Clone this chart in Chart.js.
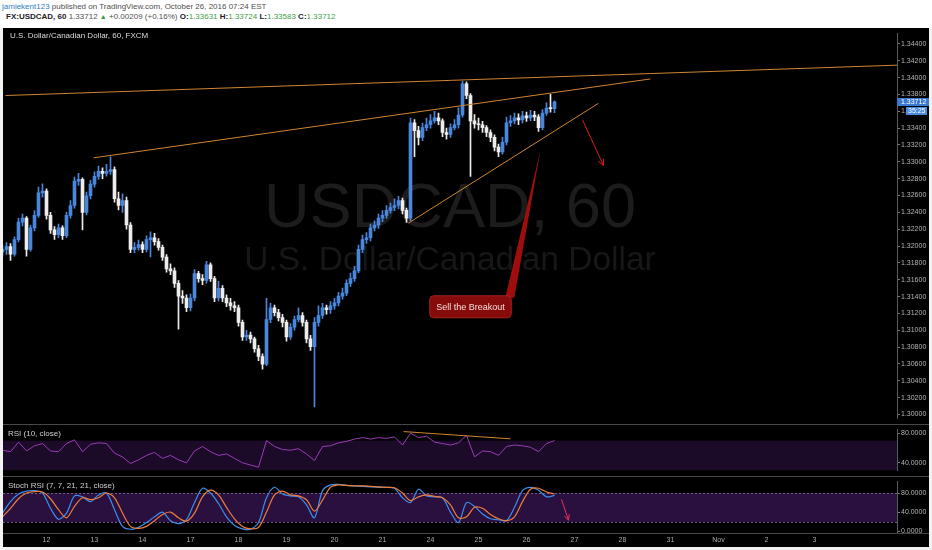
<!DOCTYPE html>
<html>
<head>
<meta charset="utf-8">
<script src="https://cdn.jsdelivr.net/npm/chart.js@4.4.0/dist/chart.umd.min.js"></script>
<style>
  body { margin: 0; width: 932px; height: 550px; overflow: hidden; background: #f2f2f2;
         font-family: "Liberation Sans", Arial, sans-serif; }
  #hdr { position: absolute; left: 0; top: 0; width: 932px; height: 28px; background: #fff; }
  .ln { position: absolute; white-space: nowrap; font-size: 8px; line-height: 10px; color: #505050; }
  #l1 { left: 2px; top: 2px; }
  #l2 { left: 6px; top: 12px; }
  .user { color: #2f7ec4; }
  .b { color: #222; font-weight: bold; }
  .g { color: #43a047; }
  .tri { color: #3c9a3c; font-size: 7px; }
  #panes { position: absolute; left: 3px; top: 28px; width: 926px; height: 519px; background: #000; }
  #panes canvas { position: absolute; left: 0; }
</style>
</head>
<body>
<div id="hdr">
  <div class="ln" id="l1"><span class="user">jamiekent123</span> published on TradingView.com, October 26, 2016 07:24 EST</div>
  <div class="ln" id="l2"><span class="b">FX:USDCAD, 60</span> <span id="hLast"></span> <span class="tri">&#9650;</span> +0.00209 (+0.16%) <span class="b">O:</span><span class="g" id="hO"></span> <span class="b">H:</span><span class="g" id="hH"></span> <span class="b">L:</span><span class="g" id="hL"></span> <span class="b">C:</span><span class="g" id="hC"></span></div>
</div>
<div id="panes">
  <canvas id="price" width="926" height="396" style="top:0"></canvas>
  <canvas id="rsi" width="926" height="52" style="top:396px"></canvas>
  <canvas id="stoch" width="926" height="71" style="top:448px"></canvas>
</div>
<script>
// USDCAD 60, 2-hour steps from Oct 11 to Oct 26
const firstOpen = 1.31930;
const closes = [
  1.31961,1.31995,1.31903,1.32076,1.32284,1.32331,1.31961,1.32215,1.32365,1.32631,
  1.32654,1.32365,1.32192,1.32134,1.32215,1.32123,1.32365,1.32481,1.32770,1.32793,
  1.32400,1.32597,1.32735,1.32828,1.32886,1.32862,1.32886,1.32909,1.32562,1.32481,
  1.32539,1.32250,1.31961,1.31984,1.32018,1.31961,1.32076,1.32099,1.32053,1.31984,
  1.31868,1.31729,1.31706,1.31556,1.31406,1.31383,1.31267,1.31383,1.31672,1.31614,
  1.31591,1.31776,1.31614,1.31383,1.31498,1.31383,1.31325,1.31290,1.31267,1.31094,
  1.30920,1.30943,1.30897,1.30781,1.30689,1.30597,1.31128,1.31267,1.31209,1.31151,
  1.31094,1.30920,1.31036,1.31128,1.31175,1.31094,1.30897,1.30805,1.31094,1.31175,
  1.31267,1.31244,1.31290,1.31325,1.31406,1.31441,1.31556,1.31614,1.31706,1.31961,
  1.32076,1.32099,1.32215,1.32250,1.32331,1.32365,1.32423,1.32458,1.32481,1.32539,
  1.32423,1.32331,1.33464,1.33371,1.33290,1.33406,1.33440,1.33487,1.33521,1.33487,
  1.33348,1.33325,1.33406,1.33440,1.33556,1.33926,1.33787,1.33487,1.33450,1.33440,
  1.33406,1.33348,1.33290,1.33175,1.33117,1.33232,1.33464,1.33487,1.33521,1.33498,
  1.33545,1.33521,1.33556,1.33533,1.33406,1.33579,1.33637,1.33631,1.33712
];
const highs = [
  1.32010,1.32040,1.32030,1.32110,1.32330,1.32380,1.32350,1.32250,1.32420,1.32700,
  1.32740,1.32680,1.32400,1.32230,1.32260,1.32240,1.32400,1.32540,1.32820,1.32862,
  1.32810,1.32640,1.32780,1.32880,1.32950,1.32930,1.32970,1.33059,1.32940,1.32640,
  1.32620,1.32580,1.32280,1.32040,1.32070,1.32050,1.32120,1.32170,1.32150,1.32090,
  1.32010,1.31900,1.31790,1.31740,1.31590,1.31470,1.31420,1.31430,1.31720,1.31700,
  1.31660,1.31820,1.31800,1.31640,1.31580,1.31530,1.31420,1.31380,1.31340,1.31300,
  1.31120,1.31000,1.30980,1.30920,1.30820,1.30720,1.31380,1.31320,1.31300,1.31250,
  1.31190,1.31120,1.31080,1.31170,1.31267,1.31210,1.31120,1.30940,1.31150,1.31290,
  1.31320,1.31300,1.31340,1.31380,1.31450,1.31500,1.31600,1.31680,1.31760,1.32010,
  1.32130,1.32160,1.32260,1.32300,1.32380,1.32420,1.32480,1.32510,1.32560,1.32590,
  1.32570,1.32450,1.33520,1.33500,1.33420,1.33460,1.33520,1.33560,1.33600,1.33580,
  1.33510,1.33400,1.33450,1.33500,1.33640,1.33960,1.33950,1.33810,1.33560,1.33520,
  1.33480,1.33430,1.33380,1.33320,1.33210,1.33290,1.33530,1.33550,1.33580,1.33570,
  1.33600,1.33590,1.33610,1.33600,1.33560,1.33620,1.33700,1.33800,1.33724
];
const lows = [
  1.31880,1.31900,1.31830,1.31880,1.32050,1.32240,1.31880,1.31940,1.32180,1.32340,
  1.32580,1.32320,1.32150,1.32080,1.32100,1.32080,1.32100,1.32330,1.32450,1.32720,
  1.32192,1.32370,1.32560,1.32700,1.32790,1.32800,1.32830,1.32850,1.32520,1.32430,
  1.32400,1.32200,1.31920,1.31920,1.31950,1.31920,1.31930,1.31870,1.32010,1.31950,
  1.31830,1.31690,1.31660,1.31510,1.31013,1.31320,1.31220,1.31230,1.31350,1.31570,
  1.31540,1.31560,1.31580,1.31340,1.31350,1.31340,1.31280,1.31240,1.31220,1.31050,
  1.30880,1.30880,1.30850,1.30740,1.30640,1.30539,1.30580,1.31090,1.31170,1.31110,
  1.31040,1.30870,1.30890,1.31000,1.31100,1.31050,1.30850,1.30760,1.30090,1.31050,
  1.31140,1.31190,1.31200,1.31250,1.31290,1.31370,1.31410,1.31520,1.31580,1.31680,
  1.31920,1.32030,1.32060,1.32180,1.32210,1.32290,1.32330,1.32390,1.32420,1.32440,
  1.32380,1.32280,1.32300,1.33060,1.33200,1.33250,1.33370,1.33400,1.33460,1.33440,
  1.33300,1.33270,1.33290,1.33380,1.33400,1.33530,1.33750,1.32828,1.33400,1.33380,
  1.33350,1.33300,1.33240,1.33130,1.33060,1.33090,1.33200,1.33420,1.33450,1.33440,
  1.33460,1.33480,1.33490,1.33490,1.33360,1.33380,1.33550,1.33590,1.33583
];

// RSI(10) and Stoch RSI K/D, one value every 2 bars (every 4 hours)
const rsi = [
  57,55,68,56,63,66,56,55,66,71, 55,65,67,66,53,48,39,44,50,54,
  46,50,44,40,56,62,55,50,52,46, 40,37,34,70,62,58,57,59,52,43,
  62,63,67,69,72,74,72,74,73,75, 64,80,74,76,68,66,64,67,77,48,
  56,55,50,62,64,63,61,55,66,70
];
const stochK = [
  38,62,78,84,85,80,48,25,38,74, 72,62,76,80,45,10,4,8,18,30,
  40,22,16,24,60,90,80,58,30,12, 5,4,18,70,92,78,74,72,55,28,
  85,97,98,96,95,94,93,92,92,90, 70,60,88,74,72,70,40,18,60,52,
  36,26,24,22,50,85,92,86,72,75
];
const stochD = [
  30,48,68,80,83,82,68,45,28,52, 70,66,70,80,70,38,10,6,10,22,
  35,40,28,21,38,72,86,76,50,26, 10,5,8,40,76,84,76,74,66,42,
  65,92,97,96,95,95,94,93,92,91, 80,64,72,76,73,70,55,28,30,50,
  48,35,26,22,30,62,88,90,82,78
];

// axis labels
const priceTicks = [1.30000,1.30200,1.30400,1.30600,1.30800,1.31000,1.31200,1.31400,1.31600,
  1.31800,1.32000,1.32200,1.32400,1.32600,1.32800,1.33000,1.33200,1.33400,1.33600,1.33800,
  1.34000,1.34200,1.34400];
const rsiTicks = [80, 40];
const stochTicks = [80, 40, 0];
const dayLabels = ['12','13','14','17','18','19','20','21','24','25','26','27','28','31','Nov','2','3'];
const BARS_PER_DAY = 12;
const FIRST_DAY_BAR = 11;   // bar where Oct 12 starts

// drawings on the chart, in (bar, value) units
const trendLines = [
  { from: [0.75, 1.33787], to: [224, 1.34148] },
  { from: [22.75, 1.33047], to: [162, 1.33984] },
  { from: [101.5, 1.32273], to: [149, 1.33695] }
];
const sellArrow = { from: [145, 1.33498], to: [150.25, 1.32955] };
const callout = { text: 'Sell the Breakout', tip: [134.5, 1.33140], at: [117, 1.31279] };
const rsiLine = { from: [100.25, 82.2], to: [127, 72.4] };
const stochArrow = { from: [139.75, 66.7], to: [141.5, 22.9] };

const opens = closes.map((c, i) => i === 0 ? firstOpen : closes[i - 1]);
const last = closes.length - 1;

document.getElementById('hLast').textContent = closes[last].toFixed(5);
document.getElementById('hO').textContent = opens[last].toFixed(5);
document.getElementById('hH').textContent = highs[last].toFixed(5);
document.getElementById('hL').textContent = lows[last].toFixed(5);
document.getElementById('hC').textContent = closes[last].toFixed(5);

const FONT = '"Liberation Sans", Arial, sans-serif';
const UP = '#4b86dd', DOWN = '#ececec';
const ORANGE = '#cf8532';
const X_MIN = 0.125, X_MAX = 223.625;
const AXIS_W = 32;

const candleColor = ctx => closes[ctx.dataIndex] >= opens[ctx.dataIndex] ? UP : DOWN;

function px(chart, p) {
  return [chart.scales.x.getPixelForValue(p[0]), chart.scales.y.getPixelForValue(p[1])];
}
function line(ctx, a, b, color, w) {
  ctx.strokeStyle = color; ctx.lineWidth = w || 1;
  ctx.beginPath(); ctx.moveTo(a[0], a[1]); ctx.lineTo(b[0], b[1]); ctx.stroke();
}
function arrow(ctx, a, b, color, head) {
  line(ctx, a, b, color, 1);
  const ang = Math.atan2(b[1] - a[1], b[0] - a[0]);
  ctx.beginPath();
  ctx.moveTo(b[0] - head * Math.cos(ang - 0.45), b[1] - head * Math.sin(ang - 0.45));
  ctx.lineTo(b[0], b[1]);
  ctx.lineTo(b[0] - head * Math.cos(ang + 0.45), b[1] - head * Math.sin(ang + 0.45));
  ctx.stroke();
}
function roundRect(ctx, x, y, w, h, r) {
  ctx.beginPath();
  ctx.moveTo(x + r, y); ctx.lineTo(x + w - r, y); ctx.quadraticCurveTo(x + w, y, x + w, y + r);
  ctx.lineTo(x + w, y + h - r); ctx.quadraticCurveTo(x + w, y + h, x + w - r, y + h);
  ctx.lineTo(x + r, y + h); ctx.quadraticCurveTo(x, y + h, x, y + h - r);
  ctx.lineTo(x, y + r); ctx.quadraticCurveTo(x, y, x + r, y);
  ctx.closePath();
}
function fitFont(ctx, text, width) {
  ctx.font = '100px ' + FONT;
  const s = 100 * width / ctx.measureText(text).width;
  ctx.font = s.toFixed(1) + 'px ' + FONT;
}
function separator(ctx, y, w) {
  ctx.fillStyle = '#474747';
  ctx.fillRect(0, y, w, 1);
}

function yAxis(min, max, ticks, digits) {
  return {
    position: 'right', min: min, max: max,
    afterFit: s => { s.width = AXIS_W; },
    afterBuildTicks: s => { s.ticks = ticks.map(v => ({ value: v })); },
    ticks: { color: '#b4b4b4', font: { size: 7, family: FONT }, padding: 1, autoSkip: false,
             callback: v => v.toFixed(digits) },
    grid: { drawOnChartArea: false, tickLength: 3, color: '#777' },
    border: { color: '#5a5a5a' }
  };
}
const hiddenX = { type: 'linear', min: X_MIN, max: X_MAX, display: false, offset: false };

// ---- price pane
const pricePane = {
  id: 'pricePane',
  beforeDatasetsDraw(chart) {
    const { ctx, chartArea: a } = chart;
    const cx = (a.left + a.right) / 2;
    ctx.save();
    ctx.textAlign = 'center';
    fitFont(ctx, 'USDCAD, 60', 372);
    ctx.fillStyle = '#1c1c1c';
    ctx.fillText('USDCAD, 60', cx, 199);
    fitFont(ctx, 'U.S. Dollar/Canadian Dollar', 412);
    ctx.fillStyle = '#171717';
    ctx.fillText('U.S. Dollar/Canadian Dollar', cx, 242);
    ctx.restore();
  },
  afterDatasetsDraw(chart) {
    const { ctx, chartArea: a } = chart;
    ctx.save();
    ctx.beginPath(); ctx.rect(a.left, a.top, a.width, a.height); ctx.clip();
    trendLines.forEach(t => line(ctx, px(chart, t.from), px(chart, t.to), ORANGE, 1));
    arrow(ctx, px(chart, sellArrow.from), px(chart, sellArrow.to), '#e01b1b', 7);

    // callout
    ctx.font = '9px ' + FONT;
    const tw = ctx.measureText(callout.text).width;
    const c = px(chart, callout.at);
    const bw = tw + 13, bh = 22;
    const bx = c[0] - bw / 2, by = c[1] - bh / 2;
    const tip = px(chart, callout.tip);
    ctx.fillStyle = '#a00d0d';
    ctx.beginPath();
    ctx.moveTo(bx + bw - 6, by + 2); ctx.lineTo(tip[0], tip[1]); ctx.lineTo(bx + bw + 3, by + 2);
    ctx.closePath(); ctx.fill();
    roundRect(ctx, bx, by, bw, bh, 4);
    ctx.fillStyle = '#860b0b'; ctx.fill();
    ctx.strokeStyle = '#a52222'; ctx.lineWidth = 1; ctx.stroke();
    ctx.fillStyle = '#f4dcdc'; ctx.textAlign = 'center'; ctx.textBaseline = 'middle';
    ctx.fillText(callout.text, c[0], c[1] + 0.5);
    ctx.restore();
  },
  afterDraw(chart) {
    const { ctx, chartArea: a } = chart;
    ctx.save();
    ctx.font = '8px ' + FONT; ctx.fillStyle = '#dadada'; ctx.textBaseline = 'middle';
    ctx.fillText('U.S. Dollar/Canadian Dollar, 60, FXCM', 7, 8);
    // last price and countdown on the axis
    const y = Math.round(chart.scales.y.getPixelForValue(closes[last]));
    ctx.fillStyle = '#3b79d0';
    ctx.fillRect(a.right, y - 4, AXIS_W, 8);
    ctx.fillStyle = '#4a8ae0';
    ctx.fillRect(a.right + 9, y + 5, 21, 8);
    ctx.font = '7px ' + FONT; ctx.fillStyle = '#fff';
    ctx.fillText(closes[last].toFixed(5), a.right + 4, y + 0.5);
    ctx.fillText('35:25', a.right + 11, y + 9.5);
    ctx.restore();
  }
};

new Chart(document.getElementById('price'), {
  type: 'bar',
  data: {
    datasets: [
      { data: lows.map((l, i) => ({ x: i, y: [l, highs[i]] })), barThickness: 1, grouped: false,
        backgroundColor: candleColor, order: 2 },
      { data: closes.map((c, i) => ({ x: i, y: [opens[i], c] })), barThickness: 3, grouped: false,
        minBarLength: 1, backgroundColor: candleColor, order: 1 }
    ]
  },
  options: {
    responsive: false, animation: false, events: [],
    layout: { padding: 0 },
    plugins: { legend: { display: false }, tooltip: { enabled: false } },
    scales: { x: hiddenX, y: yAxis(1.29949, 1.34527, priceTicks, 5) }
  },
  plugins: [pricePane]
});

// ---- RSI pane
const rsiPane = {
  id: 'rsiPane',
  beforeDatasetsDraw(chart) {
    const { ctx, chartArea: a, scales: { y } } = chart;
    ctx.fillStyle = '#1b0a28';
    const t = y.getPixelForValue(70), b = y.getPixelForValue(30);
    ctx.fillRect(a.left, t, a.width, b - t);
  },
  afterDatasetsDraw(chart) {
    const { ctx } = chart;
    line(ctx, px(chart, rsiLine.from), px(chart, rsiLine.to), ORANGE, 1);
  },
  afterDraw(chart) {
    const { ctx } = chart;
    separator(ctx, 0, chart.width);
    ctx.font = '8px ' + FONT; ctx.fillStyle = '#cfcfcf'; ctx.textBaseline = 'middle';
    ctx.fillText('RSI (10, close)', 5, 10);
  }
};

new Chart(document.getElementById('rsi'), {
  type: 'line',
  data: {
    datasets: [{ data: rsi.map((v, k) => ({ x: 2 * k, y: v })), borderColor: '#9a3db5',
                 borderWidth: 1, pointRadius: 0, tension: 0 }]
  },
  options: {
    responsive: false, animation: false, events: [],
    plugins: { legend: { display: false }, tooltip: { enabled: false } },
    scales: { x: hiddenX, y: yAxis(29.2, 85.4, rsiTicks, 4) }
  },
  plugins: [rsiPane]
});

// ---- Stoch RSI pane + time axis
const stochPane = {
  id: 'stochPane',
  beforeDatasetsDraw(chart) {
    const { ctx, chartArea: a, scales: { y } } = chart;
    const t = Math.round(y.getPixelForValue(80)), b = Math.round(y.getPixelForValue(20));
    ctx.fillStyle = '#29103f';
    ctx.fillRect(a.left, t, a.width, b - t);
    ctx.save();
    ctx.strokeStyle = '#6e5a86'; ctx.setLineDash([2, 2]); ctx.lineWidth = 1;
    [t, b].forEach(yy => { ctx.beginPath(); ctx.moveTo(a.left, yy + 0.5); ctx.lineTo(a.right, yy + 0.5); ctx.stroke(); });
    ctx.restore();
  },
  afterDatasetsDraw(chart) {
    arrow(chart.ctx, px(chart, stochArrow.from), px(chart, stochArrow.to), '#e8305a', 6);
  },
  afterDraw(chart) {
    const { ctx, chartArea: a } = chart;
    separator(ctx, 0, chart.width);
    separator(ctx, a.bottom, chart.width);
    ctx.font = '8px ' + FONT; ctx.fillStyle = '#cfcfcf'; ctx.textBaseline = 'middle';
    ctx.fillText('Stoch RSI (7, 7, 21, 21, close)', 5, 10);
  }
};

new Chart(document.getElementById('stoch'), {
  type: 'line',
  data: {
    datasets: [
      { data: stochD.map((v, k) => ({ x: 2 * k, y: v })), borderColor: '#ee7d3a',
        borderWidth: 1.2, pointRadius: 0, tension: 0.3 },
      { data: stochK.map((v, k) => ({ x: 2 * k, y: v })), borderColor: '#3e8de8',
        borderWidth: 1.2, pointRadius: 0, tension: 0.3 }
    ]
  },
  options: {
    responsive: false, animation: false, events: [],
    plugins: { legend: { display: false }, tooltip: { enabled: false } },
    scales: {
      x: {
        type: 'linear', min: X_MIN, max: X_MAX, offset: false,
        afterFit: s => { s.height = 14; },
        afterBuildTicks: s => { s.ticks = dayLabels.map((l, k) => ({ value: FIRST_DAY_BAR + k * BARS_PER_DAY })); },
        ticks: { color: '#aaaaaa', font: { size: 7, family: FONT }, padding: 3, autoSkip: false,
                 maxRotation: 0, callback: (v, idx) => dayLabels[idx] },
        grid: { display: false, drawTicks: false },
        border: { display: false }
      },
      y: yAxis(-3.81, 104.76, stochTicks, 4)
    }
  },
  plugins: [stochPane]
});
</script>
</body>
</html>
